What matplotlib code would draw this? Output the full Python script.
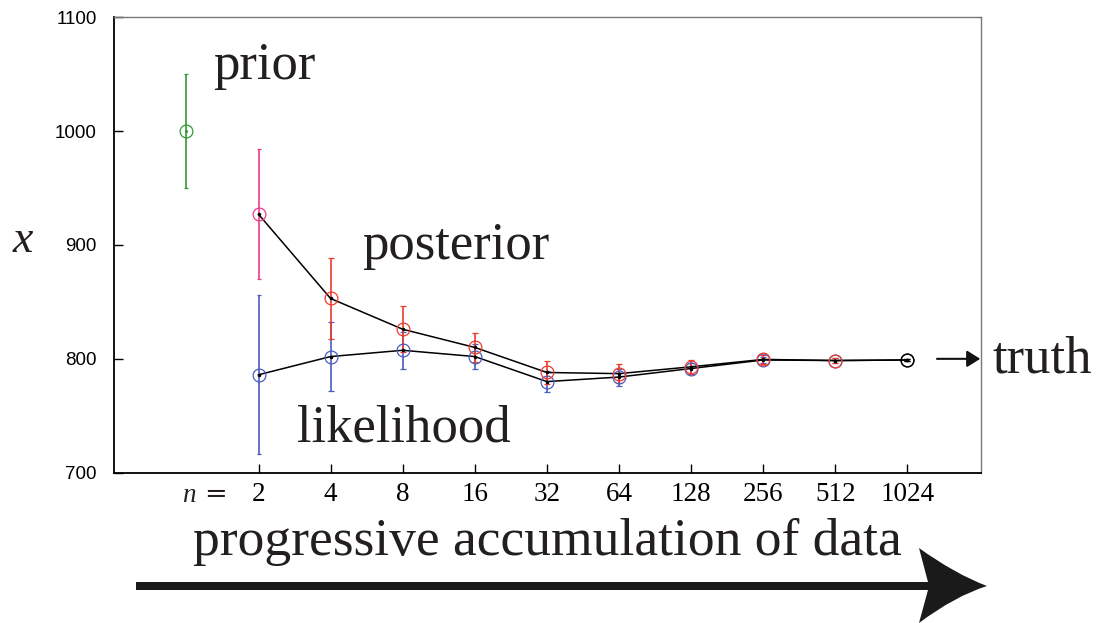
import matplotlib
matplotlib.use("Agg")
import matplotlib.pyplot as plt
from matplotlib.path import Path
from matplotlib.patches import PathPatch
import numpy as np

plt.rcParams['mathtext.fontset'] = 'custom'
plt.rcParams['mathtext.rm'] = 'Liberation Serif'
plt.rcParams['mathtext.it'] = 'Liberation Serif:italic'

# data
n_labels = ['2', '4', '8', '16', '32', '64', '128', '256', '512', '1024']
prior_mean = 1000
prior_err = 50
post_mean = [927, 853, 826, 810, 788, 787, 793, 799.5, 798.5, 799]
post_err = [57, 36, 20, 13, 10, 8.5, 6, 4, 2, 1]
like_mean = [786, 802, 807.5, 802, 780, 784, 791.5, 799, 798.5, 799]
like_err = [70, 30, 16, 11, 9, 7.5, 5, 3, 2, 1]

post_cols = ['#ee3a8c'] + ['#ee3b2e'] * 8 + ['black']
like_cols = ['#4a5cbf'] * 9 + ['black']
serif = 'Liberation Serif'

fig = plt.figure(figsize=(10.99, 6.23), dpi=100)
ax = fig.add_axes([0.104, 0.2413, 0.7886, 0.7309])

xs = np.arange(1, len(n_labels) + 1)

ax.errorbar(0, prior_mean, yerr=prior_err, fmt='o', color='#339933', mfc='none',
            ms=9.2, mew=0.9, elinewidth=1.2, capsize=1.2, capthick=1.6)
ax.plot(0, prior_mean, '.', color='#339933', ms=2.5)

for i in range(len(xs)):
    cs = 1.2 if i == 0 else 2.5
    ax.errorbar(xs[i], like_mean[i], yerr=like_err[i], fmt='o', color=like_cols[i],
                mfc='none', ms=9.2, mew=0.9, elinewidth=1.2, capsize=cs, capthick=1.1)
for i in range(len(xs)):
    cs = 1.2 if i == 0 else 2.5
    ax.errorbar(xs[i], post_mean[i], yerr=post_err[i], fmt='o', color=post_cols[i],
                mfc='none', ms=9.2, mew=0.9, elinewidth=1.2, capsize=cs, capthick=1.1)

ax.plot(xs, like_mean, '-', color='black', lw=1.1, marker='.', ms=3)
ax.plot(xs, post_mean, '-', color='black', lw=1.1, marker='.', ms=3)

ax.set_xlim(-1, 11.02)
ax.set_ylim(700, 1100)
ax.set_yticks([700, 800, 900, 1000, 1100])
ax.set_yticklabels(['700', '800', '900', '1000', '1100'], fontfamily='Liberation Sans', fontsize=13.5)
ax.set_xticks(xs)
ax.set_xticklabels(n_labels, fontfamily=serif, fontsize=19.5)
ax.tick_params(axis='y', direction='in', length=6.5, width=1.0, pad=12.5)
ax.tick_params(axis='x', direction='in', length=6.5, width=1.0, pad=7)
for s in ['left', 'bottom']:
    ax.spines[s].set_linewidth(1.3)
    ax.spines[s].set_color('black')
for s in ['top', 'right']:
    ax.spines[s].set_linewidth(1.0)
    ax.spines[s].set_color('#777777')

# annotations
ax.text(0.37, 1045.5, 'prior', fontfamily=serif, fontsize=38, va='baseline', color='#231f20')
ax.text(2.44, 887.3, 'posterior', fontfamily=serif, fontsize=38, va='baseline', color='#231f20')
ax.text(1.54, 727.5, 'likelihood', fontfamily=serif, fontsize=38, va='baseline', color='#231f20')
ax.text(11.18, 788.2, 'truth', fontfamily=serif, fontsize=38, va='baseline', color='#231f20')
ax.annotate('', xy=(11.01, 800), xytext=(10.41, 800), annotation_clip=False,
            arrowprops=dict(arrowstyle='-|>,head_length=0.8,head_width=0.5', color='#111111', lw=1.5,
                            shrinkA=0, shrinkB=0))

fig.text(0.1656, 0.1947, '$n$ =', fontsize=19.5, va='baseline', ha='left', color='#231f20')
fig.text(0.021, 0.5955, '$x$', fontsize=33, va='baseline', ha='center', color='#231f20')
fig.text(0.1756, 0.1091, 'progressive accumulation of data', fontfamily=serif, fontsize=38.5,
         va='baseline', ha='left', color='#231f20')

# big arrow along the bottom (pixel layout -> figure fraction)
W, H = 1099.0, 623.0
def fp(x, y):
    return (x / W, (H - y) / H)
verts = [fp(136, 582), fp(928, 582), fp(919, 548), fp(955, 574), fp(987, 586),
         fp(955, 596), fp(919, 623), fp(928, 590), fp(136, 590), fp(136, 582)]
codes = [Path.MOVETO, Path.LINETO, Path.LINETO, Path.CURVE3, Path.CURVE3,
         Path.CURVE3, Path.CURVE3, Path.LINETO, Path.LINETO, Path.CLOSEPOLY]
fig.patches.append(PathPatch(Path(verts, codes), transform=fig.transFigure,
                             facecolor='#1a1a1a', edgecolor='none'))

fig.savefig('out.png', dpi=100)
